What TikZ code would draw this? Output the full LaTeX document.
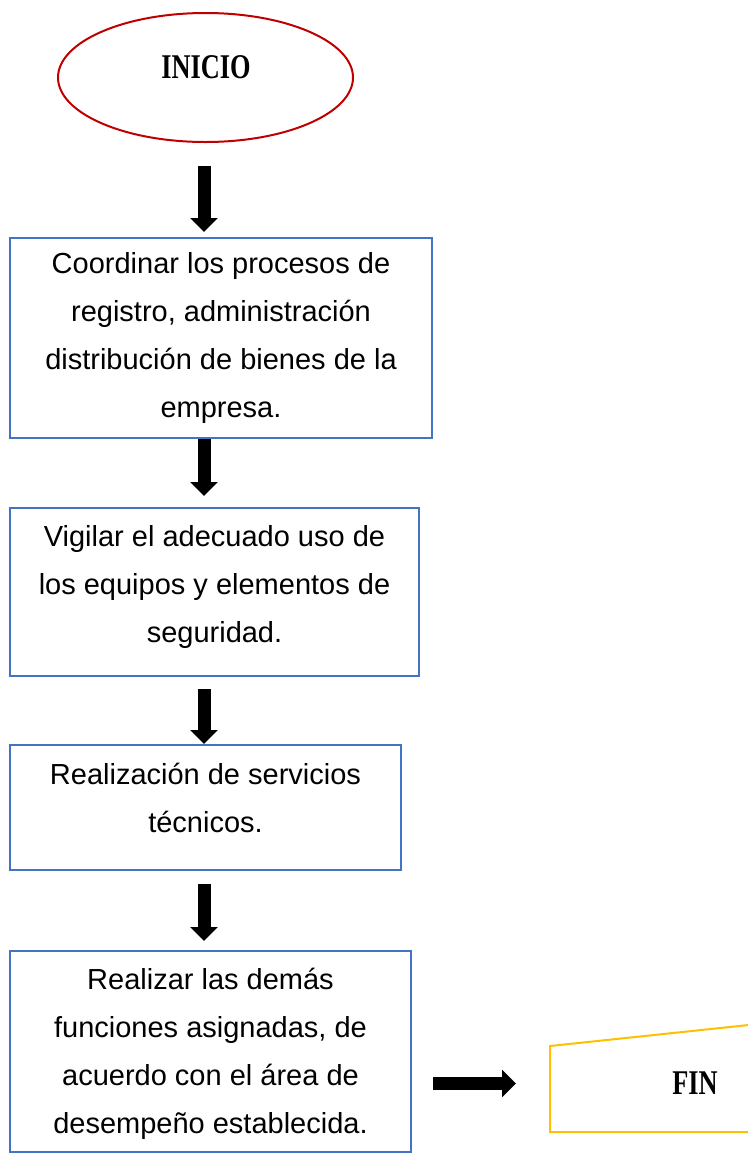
\documentclass[tikz,border=0pt]{standalone}
\usepackage{fontspec}
\usepackage{graphicx}
\setmainfont{Liberation Sans}
\newfontfamily\titlefont{Liberation Serif}
\usetikzlibrary{shapes.geometric,arrows.meta,calc}
\definecolor{inired}{HTML}{C00000}
\definecolor{boxblue}{HTML}{4472C4}
\definecolor{finyellow}{HTML}{FFC000}
\tikzset{
  stepbox/.style={draw=boxblue, line width=1.5pt, rectangle, inner sep=0pt},
  steptext/.style={inner sep=0pt, align=center, font=\fontsize{21.75pt}{36pt}\selectfont},
  blockarrow/.style={line width=9.75pt, -{Triangle[width=20.25pt,length=10.5pt]}},
  titletext/.style={font=\titlefont\bfseries\fontsize{26pt}{30pt}\selectfont, inner sep=0pt}
}
\begin{document}
\begin{tikzpicture}[x=0.75pt, y=-0.75pt]
\useasboundingbox (0,0) rectangle (748,1154);
\coordinate (ax) at (204,0);
% start
\node[ellipse, draw=inired, line width=1.5pt, minimum width=221.25pt, minimum height=96.75pt, inner sep=0pt] (inicio) at (205.5,77.5) {};
\node[titletext] (iniciotxt) at (206,67) {\scalebox{0.76}[1]{INICIO}};
% boxes
\node[stepbox, minimum width=316.5pt, minimum height=150pt] (b1) at (221,338) {};
\node[steptext] (b1txt) at (221,338)
  {Coordinar los procesos de\\registro, administración\\distribución de bienes de la\\empresa.};
\node[stepbox, minimum width=306.75pt, minimum height=126pt] (b2) at (214.5,592) {};
\node[steptext] (b2txt) at (214.5,587)
  {Vigilar el adecuado uso de\\los equipos y elementos de\\seguridad.};
\node[stepbox, minimum width=293.25pt, minimum height=93.75pt] (b3) at (205.5,807.5) {};
\node[steptext] (b3txt) at (205.5,797.5)
  {Realización de servicios\\técnicos.};
\node[stepbox, minimum width=300.75pt, minimum height=150.75pt] (b4) at (210.5,1051.5) {};
\node[steptext] (b4txt) at (210.5,1053.5)
  {Realizar las demás\\funciones asignadas, de\\acuerdo con el área de\\desempeño establecida.};
% end shape
\draw[finyellow, line width=1.5pt] (760,1023.8) -- (550,1046) -- (550,1132) -- (760,1132);
\coordinate (fin) at (550,1083.5);
\node[titletext] (fintxt) at (695,1083) {\scalebox{0.76}[1]{FIN}};
% arrows
\draw[blockarrow, shorten <=17.25pt, shorten >=3.75pt] (inicio.south -| ax) -- (b1.north -| ax);
\draw[blockarrow, shorten >=8.25pt] (b1.south -| ax) -- (b2.north -| ax);
\draw[blockarrow, shorten <=9pt] (b2.south -| ax) -- (b3.north -| ax);
\draw[blockarrow, shorten <=9.75pt, shorten >=6.75pt] (b3.south -| ax) -- (b4.north -| ax);
\draw[blockarrow, shorten <=15.75pt, shorten >=25.5pt] (b4.east |- fin) -- (fin);
\end{tikzpicture}
\end{document}
